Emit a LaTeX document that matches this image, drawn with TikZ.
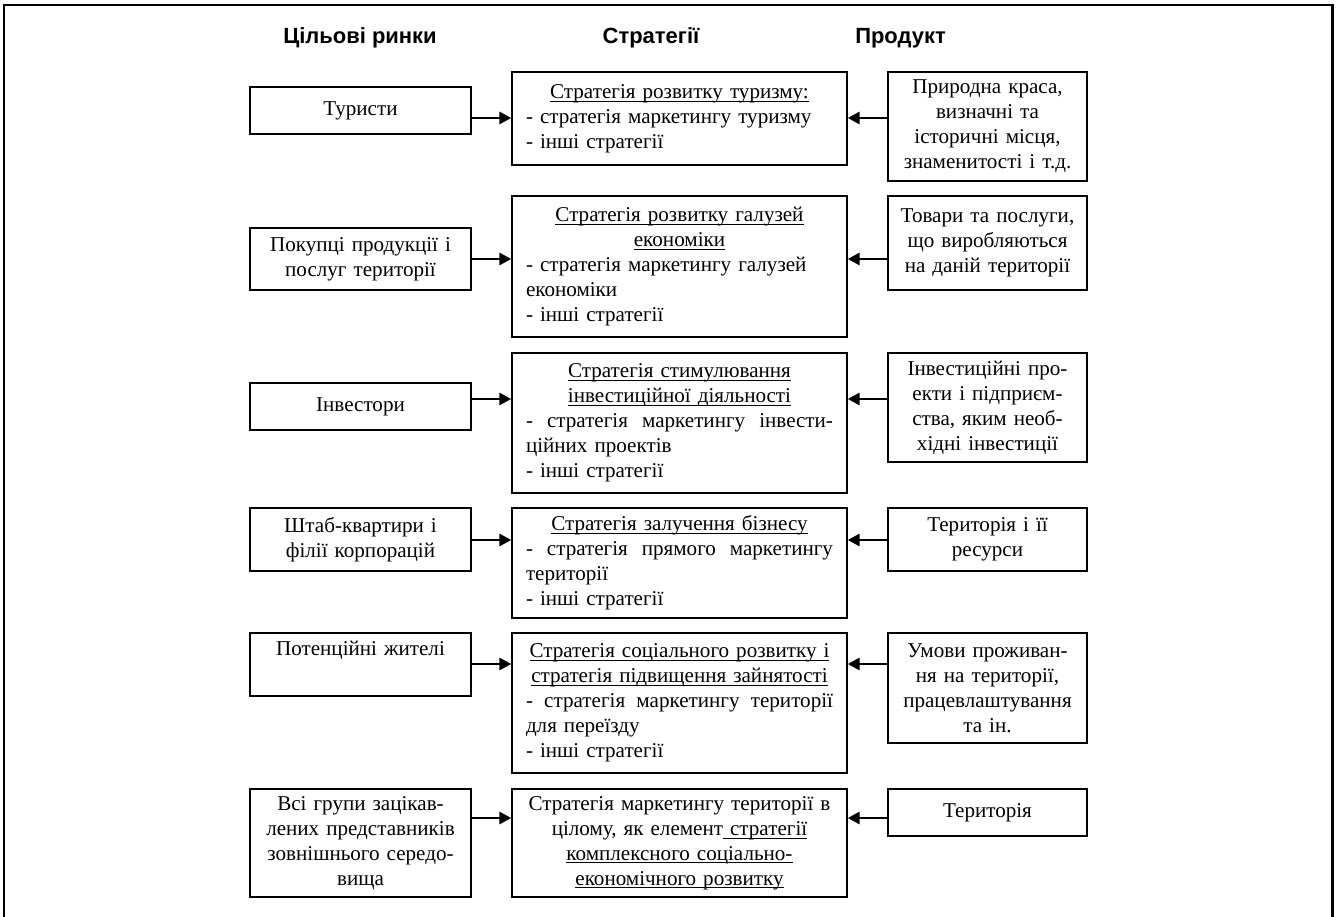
\documentclass[tikz,border=0pt]{standalone}
\usepackage{fontspec}
\setmainfont{Liberation Serif}
\newfontfamily\headfont{Liberation Sans}
\usetikzlibrary{arrows.meta}
\definecolor{Ink}{HTML}{000000}
\setlength{\parindent}{0pt}
% underline at a fixed depth below the baseline
\newsavebox{\undlbox}
\newcommand{\undl}[1]{\leavevmode\sbox{\undlbox}{#1}%
    \rlap{\rule[-1.8pt]{\wd\undlbox}{0.5pt}}\usebox{\undlbox}}

\begin{document}
\begin{tikzpicture}[
    font=\fontsize{12pt}{14.2pt}\selectfont,
    box/.style={draw=Ink, line width=0.75pt, inner ysep=1mm, text=Ink},
    market/.style={box, text width=4.1cm, inner xsep=1.6mm, align=center},
    strategy/.style={box, text width=6.14cm, inner xsep=2.8mm},
    product/.style={box, text width=3.7cm, inner xsep=1.4mm, align=center},
    flow/.style={-{Triangle[length=2.4mm,width=2.4mm]}, line width=1.7pt,
                 draw=Ink},
    heading/.style={font=\headfont\bfseries\fontsize{12.5pt}{14pt}\selectfont,
                    anchor=base, text=Ink}
]
\useasboundingbox (0,0) rectangle (26.72,-18.34);

% Outer frame (open at the bottom)
\draw[Ink, line width=1.6pt] (0.08,-18.34) -- (0.08,-0.1) -- (26.65,-0.1)
    -- (26.65,-18.34);

% Column headings
\node[heading] (hmarket) at (7.2,-0.87) {Цільові ринки};
\node[heading] (hstrat) at (13.02,-0.87) {Стратегії};
\node[heading] (hprod) at (18.01,-0.87) {Продукт};

% Row 1: tourism
\node[market, minimum height=0.94cm] (tourists) at (7.21,-2.21) {Туристи};
\node[strategy, minimum height=1.86cm] (tourism) at (13.59,-2.37)
    {{\centering\undl{Стратегія розвитку туризму:}\par}
     - стратегія маркетингу туризму\\
     - інші стратегії};
\node[product, minimum height=2.18cm] (nature) at (19.75,-2.53)
    {Природна краса,\\визначні та\\історичні місця,\\знаменитості і т.д.};
\coordinate (row1) at (0,-2.36);
\draw[flow] (tourists.east |- row1) -- (tourism.west |- row1);
\draw[flow] (nature.west |- row1) -- (tourism.east |- row1);

% Row 2: branches of economy
\node[market, minimum height=1.24cm] (buyers) at (7.21,-5.18)
    {Покупці продукції і\\послуг території};
\node[strategy, minimum height=2.82cm] (economy) at (13.59,-5.33)
    {{\centering\undl{Стратегія розвитку галузей}\\\undl{економіки}\par}
     - стратегія маркетингу галузей\\
     економіки\\
     - інші стратегії};
\node[product, minimum height=1.88cm] (goods) at (19.75,-4.86)
    {Товари та послуги,\\що виробляються\\на даній території};
\coordinate (row2) at (0,-5.18);
\draw[flow] (buyers.east |- row2) -- (economy.west |- row2);
\draw[flow] (goods.west |- row2) -- (economy.east |- row2);

% Row 3: investment
\node[market, minimum height=0.94cm] (investors) at (7.21,-8.13) {Інвестори};
\node[strategy, minimum height=2.80cm] (invest) at (13.59,-8.46)
    {{\centering\undl{Стратегія стимулювання}\\
      \undl{інвестиційної діяльності}\par}
     - \hfill стратегія \hfill маркетингу \hfill інвести-\\
     ційних проектів\\
     - інші стратегії};
\node[product, minimum height=2.18cm] (projects) at (19.75,-8.15)
    {Інвестиційні про-\\екти і підприєм-\\ства, яким необ-\\хідні інвестиції};
\coordinate (row3) at (0,-7.98);
\draw[flow] (investors.east |- row3) -- (invest.west |- row3);
\draw[flow] (projects.west |- row3) -- (invest.east |- row3);

% Row 4: business attraction
\node[market, minimum height=1.26cm] (hq) at (7.21,-10.79)
    {Штаб-квартири і\\філії корпорацій};
\node[strategy, minimum height=2.20cm] (business) at (13.59,-11.26)
    {{\centering\undl{Стратегія залучення бізнесу}\par}
     - \hfill стратегія \hfill прямого \hfill маркетингу\\
     території\\
     - інші стратегії};
\node[product, minimum height=1.26cm] (resources) at (19.75,-10.79)
    {Територія і її\\ресурси};
\coordinate (row4) at (0,-10.80);
\draw[flow] (hq.east |- row4) -- (business.west |- row4);
\draw[flow] (resources.west |- row4) -- (business.east |- row4);

% Row 5: social development
\node[market, minimum height=1.26cm] (residents) at (7.21,-13.29)
    {Потенційні жителі\\\strut};
\node[strategy, minimum height=2.80cm] (social) at (13.59,-14.06)
    {{\centering\undl{Стратегія соціального розвитку і}\\
      \undl{стратегія підвищення зайнятості}\par}
     - \hfill стратегія \hfill маркетингу \hfill території\\
     для переїзду\\
     - інші стратегії};
\node[product, minimum height=2.20cm] (living) at (19.75,-13.76)
    {Умови проживан-\\ня на території,\\працевлаштування\\та ін.};
\coordinate (row5) at (0,-13.28);
\draw[flow] (residents.east |- row5) -- (social.west |- row5);
\draw[flow] (living.west |- row5) -- (social.east |- row5);

% Row 6: territory as a whole
\node[market, minimum height=2.16cm] (groups) at (7.21,-16.86)
    {Всі групи зацікав-\\лених представників\\зовнішнього середо-\\вища};
\node[strategy, align=center, minimum height=2.16cm] (whole) at (13.59,-16.86)
    {Стратегія маркетингу території в\\
     цілому, як елемент\undl{ стратегії}\\
     \undl{комплексного соціально-}\\
     \undl{економічного розвитку}};
\node[product, minimum height=0.94cm] (territory) at (19.75,-16.25)
    {Територія};
\coordinate (row6) at (0,-16.36);
\draw[flow] (groups.east |- row6) -- (whole.west |- row6);
\draw[flow] (territory.west |- row6) -- (whole.east |- row6);

\end{tikzpicture}
\end{document}
